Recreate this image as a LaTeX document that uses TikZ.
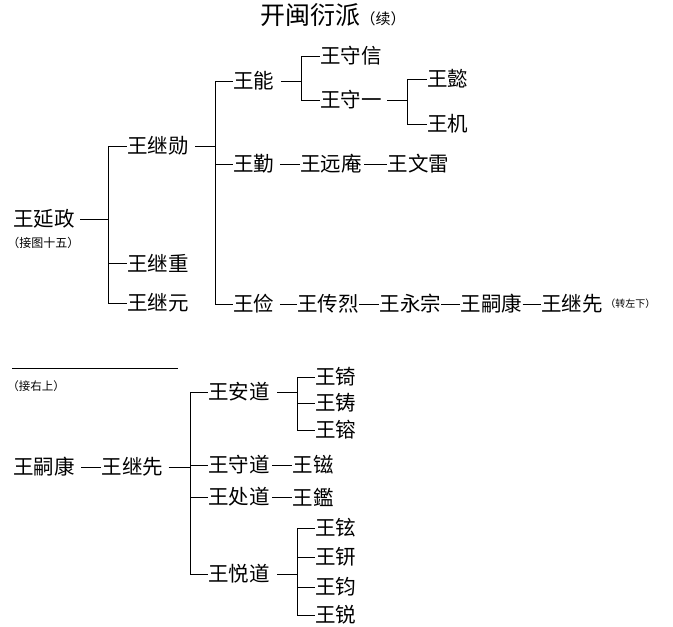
\documentclass[tikz,border=0pt]{standalone}
\usepackage{fontspec}
\newfontfamily\cjk{Noto Sans CJK SC}
\usepackage{tikz}
\usetikzlibrary{positioning}

\begin{document}
\begin{tikzpicture}[x=1pt, y=-1pt, line width=0.8pt,
  person/.style={anchor=west, inner sep=0pt, font=\cjk\fontsize{20.5}{20.5}\selectfont},
  note/.style={anchor=west, inner sep=0pt, font=\cjk\fontsize{11.5}{11.5}\selectfont}]
\useasboundingbox (0,0) rectangle (673,627);

% the title
\node[inner sep=0pt, font=\cjk\fontsize{25}{25}\selectfont] (title) at (333,15)
  {开闽衍派{\fontsize{15}{15}\selectfont （续）}};

% the upper tree and its names
\node[person] (yzh) at (13,219) {王延政};
\node[note, font=\cjk\fontsize{12}{12}\selectfont] (from15) at (7,243) {（接图十五）};
\coordinate (j1) at (108,219);
\node[person] (jxun) at (127,146) {王继勋};
\node[person] (jzhong) at (127,263) {王继重};
\node[person] (jyuan) at (127,303) {王继元};
\coordinate (j2) at (215,146);
\node[person] (neng) at (233,81) {王能};
\node[person] (qin) at (233,164) {王勤};
\node[person] (jian) at (233,304) {王俭};
\coordinate (j3) at (301,81);
\node[person] (sxin) at (320,56) {王守信};
\node[person] (syi) at (320,100) {王守一};
\coordinate (j4) at (407,100);
\node[person] (yi) at (427,79) {王懿};
\node[person] (ji) at (427,124) {王机};
\node[person, right=25pt of qin] (yyan) {王远庵};
\node[person, right=25pt of yyan] (wlei) {王文雷};
\node[person, right=22pt of jian] (clie) {王传烈};
\node[person, right=20pt of clie] (yzong) {王永宗};
\node[person, right=19pt of yzong] (skang) {王嗣康};
\node[person, right=18pt of skang] (jxian) {王继先};
\node[note, font=\cjk\fontsize{10}{10}\selectfont, right=2pt of jxian] (toleft) {（转左下）};

% the upper brackets
\draw[shorten <=5pt] (yzh.east) -- (j1);
\draw (j1 |- jxun) -- (j1 |- jyuan);
\draw (j1 |- jxun) -- (jxun.west);
\draw (j1 |- jzhong) -- (jzhong.west);
\draw (j1 |- jyuan) -- (jyuan.west);
\draw[shorten <=6pt] (jxun.east) -- (j2);
\draw (j2 |- neng) -- (j2 |- jian);
\draw (j2 |- neng) -- (neng.west);
\draw (j2 |- qin) -- (qin.west);
\draw (j2 |- jian) -- (jian.west);
\draw[shorten <=6pt] (neng.east) -- (j3);
\draw (j3 |- sxin) -- (j3 |- syi);
\draw (j3 |- sxin) -- (sxin.west);
\draw (j3 |- syi) -- (syi.west);
\draw[shorten <=5pt] (syi.east) -- (j4);
\draw (j4 |- yi) -- (j4 |- ji);
\draw (j4 |- yi) -- (yi.west);
\draw (j4 |- ji) -- (ji.west);
\draw[shorten <=5pt] (qin.east) -- (yyan.west);
\draw[shorten <=2pt] (yyan.east) -- (wlei.west);
\draw[shorten <=5pt] (jian.east) -- (clie.west);
\draw (clie.east) -- (yzong.west);
\draw (yzong.east) -- (skang.west);
\draw (skang.east) -- (jxian.west);

% a straight rule over the lower part
\draw (12,368) -- (178,368);
\node[note] (fromup) at (7,386) {（接右上）};

% the lower tree and its names
\node[person] (skang2) at (13,467) {王嗣康};
\node[person, right=26pt of skang2] (jxian2) {王继先};
\coordinate (j5) at (190,467);
\node[person] (adao) at (208,392) {王安道};
\node[person] (sdao) at (208,465) {王守道};
\node[person] (cdao) at (208,497) {王处道};
\node[person] (ydao) at (208,574) {王悦道};
\coordinate (j6) at (297,392);
\node[person] (qi) at (315,377) {王锜};
\node[person] (zhu) at (315,403) {王铸};
\node[person] (rong) at (315,430) {王镕};
\node[person, right=22pt of sdao] (zi) {王镃};
\node[person, right=22pt of cdao] (jianm) {王鑑};
\coordinate (j7) at (297,574);
\node[person] (xuan) at (315,528) {王铉};
\node[person] (xing) at (315,557) {王钘};
\node[person] (jun) at (315,587) {王钧};
\node[person] (rui) at (315,615) {王锐};

% the lower brackets
\draw[shorten <=6pt] (skang2.east) -- (jxian2.west);
\draw[shorten <=5pt] (jxian2.east) -- (j5);
\draw (j5 |- adao) -- (j5 |- ydao);
\draw (j5 |- adao) -- (adao.west);
\draw (j5 |- sdao) -- (sdao.west);
\draw (j5 |- cdao) -- (cdao.west);
\draw (j5 |- ydao) -- (ydao.west);
\draw[shorten <=7pt] (adao.east) -- (j6);
\draw (j6 |- qi) -- (j6 |- rong);
\draw (j6 |- qi) -- (qi.west);
\draw (j6 |- zhu) -- (zhu.west);
\draw (j6 |- rong) -- (rong.west);
\draw[shorten <=2pt] (sdao.east) -- (zi.west);
\draw[shorten <=2pt] (cdao.east) -- (jianm.west);
\draw[shorten <=7pt] (ydao.east) -- (j7);
\draw (j7 |- xuan) -- (j7 |- rui);
\draw (j7 |- xuan) -- (xuan.west);
\draw (j7 |- xing) -- (xing.west);
\draw (j7 |- jun) -- (jun.west);
\draw (j7 |- rui) -- (rui.west);
\end{tikzpicture}
\end{document}
